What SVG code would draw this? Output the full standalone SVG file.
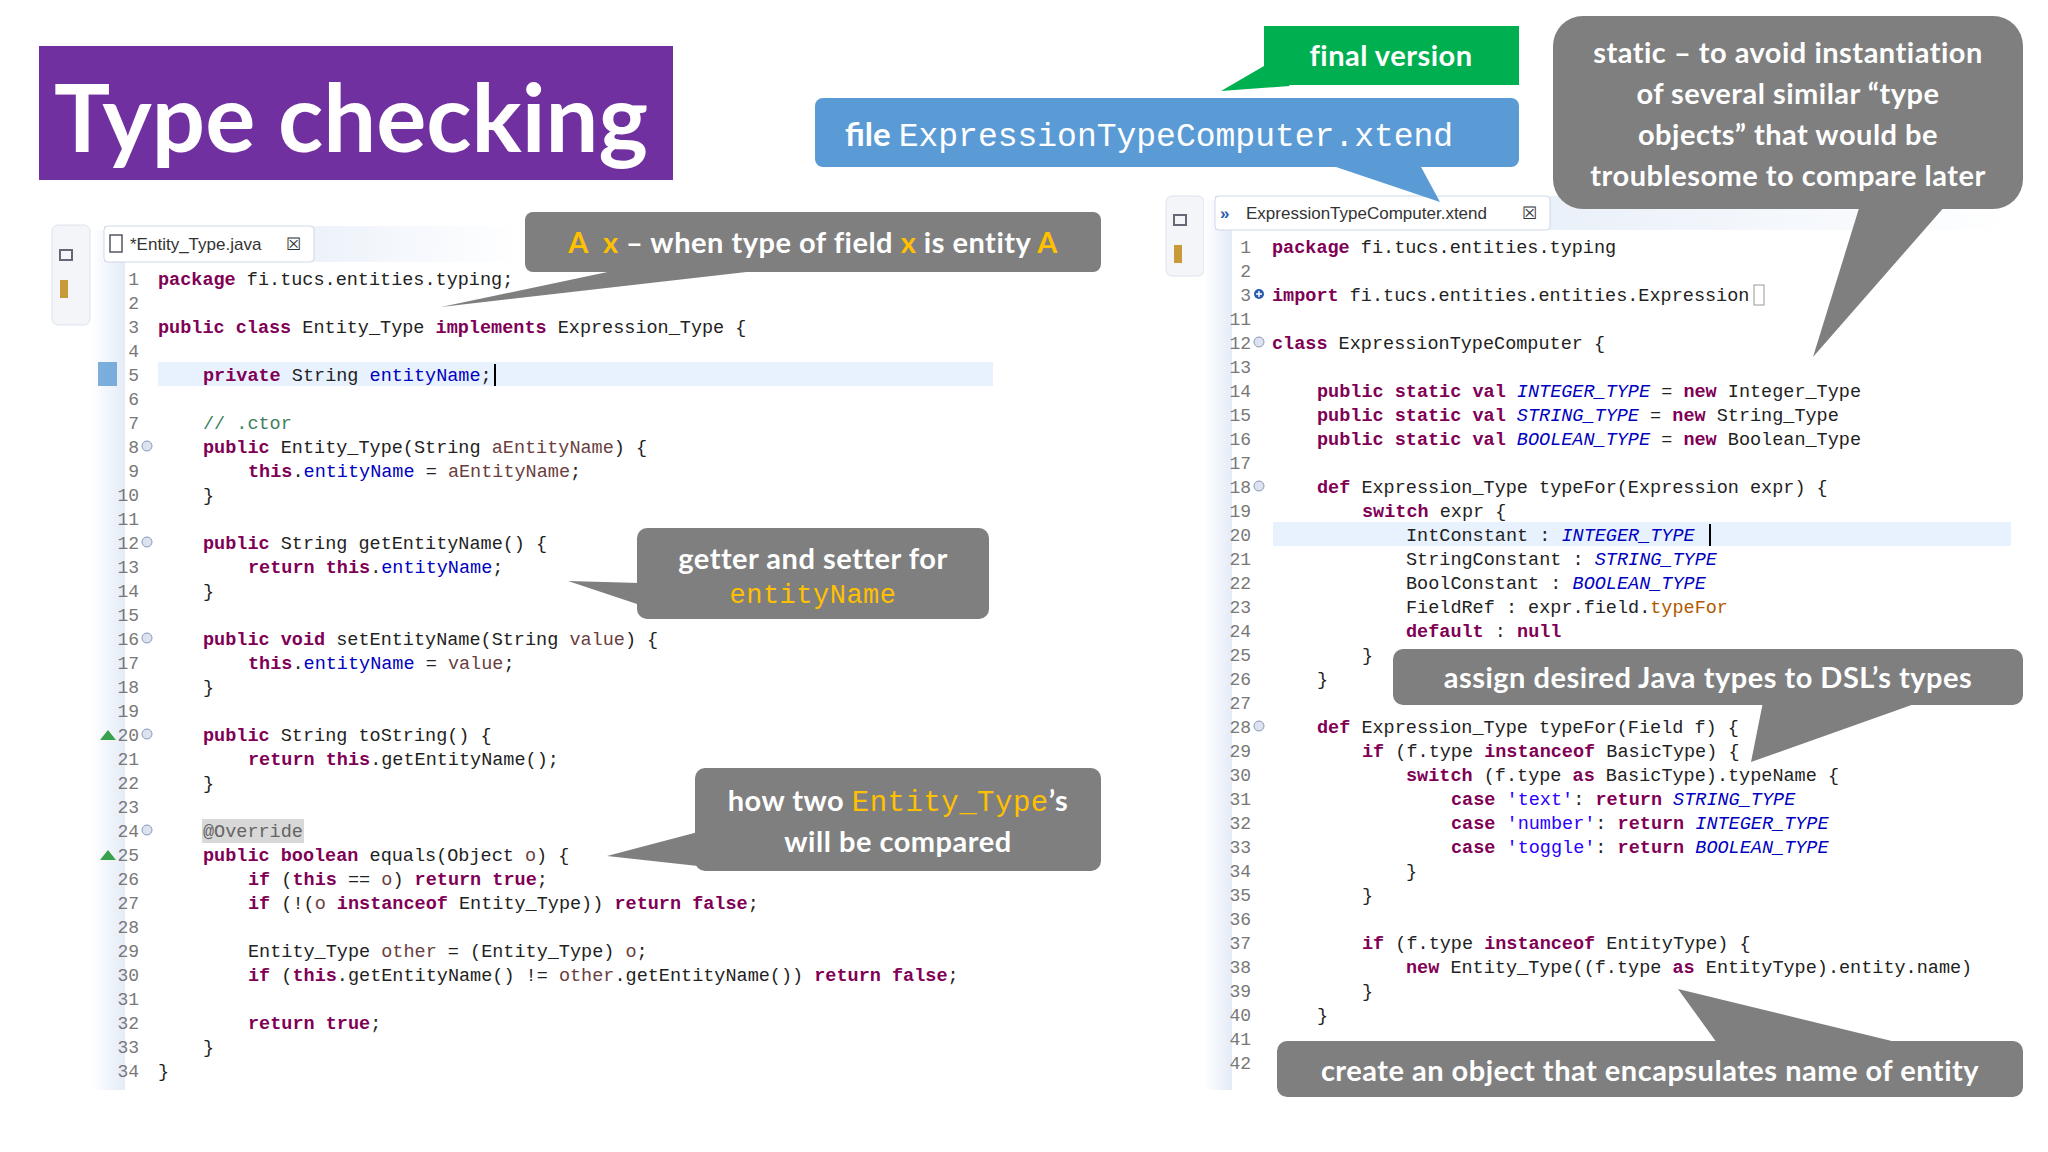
<svg xmlns="http://www.w3.org/2000/svg" width="2048" height="1152" viewBox="0 0 2048 1152">
<defs>
<style>
text{white-space:pre}
.code{font-family:"Liberation Mono","DejaVu Sans Mono",monospace;font-size:18.5px;fill:#222}
.ln{font-family:"Liberation Mono","DejaVu Sans Mono",monospace;font-size:18px;fill:#787878;text-anchor:end}
.k{fill:#7f0055;font-weight:bold}
.f{fill:#0000c0}
.c{fill:#3f7f5f}
.p{fill:#6a3e3e}
.s{fill:#0000c0;font-style:italic}
.st{fill:#2a00ff}
.m{fill:#b05a00}
.an{fill:#646464}
.call{fill:#7f7f7f}
.ct{font-family:Lato,"Open Sans","Liberation Sans",sans-serif;font-weight:bold;fill:#fff;text-anchor:middle;letter-spacing:0.5px}
.o{fill:#ffc000}
.om{fill:#ffc000;font-family:"Liberation Mono","DejaVu Sans Mono",monospace;font-weight:normal}
.fold{fill:#dde3ee;stroke:#8a9ab8;stroke-width:1}
.tabt{font-family:"Liberation Sans",Arial,sans-serif;font-size:17px;fill:#333}
</style>
<linearGradient id="strip" x1="0" x2="1" y1="0" y2="0"><stop offset="0" stop-color="#fff"/><stop offset="1" stop-color="#e4ebf7"/></linearGradient>
<linearGradient id="tabbar" x1="0" x2="1"><stop offset="0" stop-color="#dbe6f5"/><stop offset="1" stop-color="#fff"/></linearGradient>
</defs>
<rect width="2048" height="1152" fill="#fff"/>

<g id="title">
<rect x="39" y="46" width="634" height="134" fill="#7030a0"/>
<text x="54" y="152" font-family="Lato,'Open Sans','Liberation Sans',sans-serif" font-weight="bold" font-size="94" fill="#fff" textLength="594" lengthAdjust="spacingAndGlyphs">Type checking</text>
</g>

<g id="left-editor">
<rect x="52" y="225" width="38" height="100" rx="6" fill="#f3f5f9" stroke="#dde3ec"/>
<rect x="60" y="250" width="12" height="10" fill="none" stroke="#667" stroke-width="2"/>
<rect x="60" y="280" width="8" height="18" fill="#c89a3a"/>
<rect x="91" y="230" width="34" height="860" fill="url(#strip)"/>
<rect x="104" y="226" width="420" height="36" fill="url(#tabbar)"/>
<rect x="104" y="226" width="210" height="36" rx="4" fill="#fff" stroke="#cfd8e6"/>
<rect x="110" y="235" width="12" height="17" fill="none" stroke="#556" stroke-width="1.5"/>
<text class="tabt" x="130" y="250">*Entity_Type.java</text>
<text class="tabt" x="286" y="250" fill="#888">☒</text>
<rect x="158" y="362" width="835" height="24" fill="#e8f2fe"/>
<rect x="98" y="362" width="19" height="24" fill="#5b9bd5" opacity="0.8"/>
<g>
<text class="ln" x="139" y="285">1</text><text class="ln" x="139" y="309">2</text><text class="ln" x="139" y="333">3</text><text class="ln" x="139" y="357">4</text><text class="ln" x="139" y="381">5</text><text class="ln" x="139" y="405">6</text><text class="ln" x="139" y="429">7</text><text class="ln" x="139" y="453">8</text><text class="ln" x="139" y="477">9</text><text class="ln" x="139" y="501">10</text><text class="ln" x="139" y="525">11</text><text class="ln" x="139" y="549">12</text><text class="ln" x="139" y="573">13</text><text class="ln" x="139" y="597">14</text><text class="ln" x="139" y="621">15</text><text class="ln" x="139" y="645">16</text><text class="ln" x="139" y="669">17</text><text class="ln" x="139" y="693">18</text><text class="ln" x="139" y="717">19</text><text class="ln" x="139" y="741">20</text><text class="ln" x="139" y="765">21</text><text class="ln" x="139" y="789">22</text><text class="ln" x="139" y="813">23</text><text class="ln" x="139" y="837">24</text><text class="ln" x="139" y="861">25</text><text class="ln" x="139" y="885">26</text><text class="ln" x="139" y="909">27</text><text class="ln" x="139" y="933">28</text><text class="ln" x="139" y="957">29</text><text class="ln" x="139" y="981">30</text><text class="ln" x="139" y="1005">31</text><text class="ln" x="139" y="1029">32</text><text class="ln" x="139" y="1053">33</text><text class="ln" x="139" y="1077">34</text>
<circle class="fold" cx="147" cy="446" r="5"/><circle class="fold" cx="147" cy="542" r="5"/><circle class="fold" cx="147" cy="638" r="5"/><circle class="fold" cx="147" cy="734" r="5"/><circle class="fold" cx="147" cy="830" r="5"/>
<polygon points="100,740 108,730 116,740" fill="#3aa04a"/><polygon points="100,860 108,850 116,860" fill="#3aa04a"/>
</g>
<g class="code">
<text x="158" y="285"><tspan class="k">package</tspan> fi.tucs.entities.typing;</text>
<text x="158" y="333"><tspan class="k">public class</tspan> Entity_Type <tspan class="k">implements</tspan> Expression_Type {</text>
<text x="203" y="381"><tspan class="k">private</tspan> String <tspan class="f">entityName</tspan>;</text>
<rect x="494" y="364" width="2" height="22" fill="#000"/>
<text x="203" y="429" class="c">// .ctor</text>
<text x="203" y="453"><tspan class="k">public</tspan> Entity_Type(String <tspan class="p">aEntityName</tspan>) {</text>
<text x="248" y="477"><tspan class="k">this</tspan>.<tspan class="f">entityName</tspan> = <tspan class="p">aEntityName</tspan>;</text>
<text x="203" y="501">}</text>
<text x="203" y="549"><tspan class="k">public</tspan> String getEntityName() {</text>
<text x="248" y="573"><tspan class="k">return this</tspan>.<tspan class="f">entityName</tspan>;</text>
<text x="203" y="597">}</text>
<text x="203" y="645"><tspan class="k">public void</tspan> setEntityName(String <tspan class="p">value</tspan>) {</text>
<text x="248" y="669"><tspan class="k">this</tspan>.<tspan class="f">entityName</tspan> = <tspan class="p">value</tspan>;</text>
<text x="203" y="693">}</text>
<text x="203" y="741"><tspan class="k">public</tspan> String toString() {</text>
<text x="248" y="765"><tspan class="k">return this</tspan>.getEntityName();</text>
<text x="203" y="789">}</text>
<rect x="202" y="819" width="102" height="24" fill="#d8d8d8"/>
<text x="203" y="837" class="an">@Override</text>
<text x="203" y="861"><tspan class="k">public boolean</tspan> equals(Object <tspan class="p">o</tspan>) {</text>
<text x="248" y="885"><tspan class="k">if</tspan> (<tspan class="k">this</tspan> == <tspan class="p">o</tspan>) <tspan class="k">return true</tspan>;</text>
<text x="248" y="909"><tspan class="k">if</tspan> (!(<tspan class="p">o</tspan> <tspan class="k">instanceof</tspan> Entity_Type)) <tspan class="k">return false</tspan>;</text>
<text x="248" y="957">Entity_Type <tspan class="p">other</tspan> = (Entity_Type) <tspan class="p">o</tspan>;</text>
<text x="248" y="981"><tspan class="k">if</tspan> (<tspan class="k">this</tspan>.getEntityName() != <tspan class="p">other</tspan>.getEntityName()) <tspan class="k">return false</tspan>;</text>
<text x="248" y="1029"><tspan class="k">return true</tspan>;</text>
<text x="203" y="1053">}</text>
<text x="158" y="1077">}</text>
</g>
</g>

<g id="right-editor">
<rect x="1166" y="196" width="38" height="80" rx="6" fill="#f3f5f9" stroke="#dde3ec"/>
<rect x="1174" y="215" width="12" height="10" fill="none" stroke="#667" stroke-width="2"/>
<rect x="1174" y="245" width="8" height="18" fill="#c89a3a"/>
<rect x="1204" y="200" width="28" height="890" fill="url(#strip)"/>
<rect x="1215" y="196" width="800" height="34" fill="url(#tabbar)"/>
<rect x="1215" y="196" width="335" height="34" rx="4" fill="#fff" stroke="#cfd8e6"/>
<text x="1220" y="219" font-family="Liberation Sans,sans-serif" font-size="17" fill="#2a5bb0" font-weight="bold">»</text>
<text class="tabt" x="1246" y="219">ExpressionTypeComputer.xtend</text>
<text class="tabt" x="1522" y="219" fill="#888">☒</text>
<rect x="1273" y="522" width="738" height="24" fill="#e8f2fe"/>
<g>
<text class="ln" x="1251" y="253">1</text><text class="ln" x="1251" y="277">2</text><text class="ln" x="1251" y="301">3</text><text class="ln" x="1251" y="325">11</text><text class="ln" x="1251" y="349">12</text><text class="ln" x="1251" y="373">13</text><text class="ln" x="1251" y="397">14</text><text class="ln" x="1251" y="421">15</text><text class="ln" x="1251" y="445">16</text><text class="ln" x="1251" y="469">17</text><text class="ln" x="1251" y="493">18</text><text class="ln" x="1251" y="517">19</text><text class="ln" x="1251" y="541">20</text><text class="ln" x="1251" y="565">21</text><text class="ln" x="1251" y="589">22</text><text class="ln" x="1251" y="613">23</text><text class="ln" x="1251" y="637">24</text><text class="ln" x="1251" y="661">25</text><text class="ln" x="1251" y="685">26</text><text class="ln" x="1251" y="709">27</text><text class="ln" x="1251" y="733">28</text><text class="ln" x="1251" y="757">29</text><text class="ln" x="1251" y="781">30</text><text class="ln" x="1251" y="805">31</text><text class="ln" x="1251" y="829">32</text><text class="ln" x="1251" y="853">33</text><text class="ln" x="1251" y="877">34</text><text class="ln" x="1251" y="901">35</text><text class="ln" x="1251" y="925">36</text><text class="ln" x="1251" y="949">37</text><text class="ln" x="1251" y="973">38</text><text class="ln" x="1251" y="997">39</text><text class="ln" x="1251" y="1021">40</text><text class="ln" x="1251" y="1045">41</text><text class="ln" x="1251" y="1069">42</text>
<circle cx="1259" cy="294" r="5" fill="#2a5bb0"/><path d="M1256 294h6M1259 291v6" stroke="#fff" stroke-width="1.5"/>
<circle class="fold" cx="1259" cy="342" r="5"/><circle class="fold" cx="1259" cy="486" r="5"/><circle class="fold" cx="1259" cy="726" r="5"/>
</g>
<g class="code">
<text x="1272" y="253"><tspan class="k">package</tspan> fi.tucs.entities.typing</text>
<text x="1272" y="301"><tspan class="k">import</tspan> fi.tucs.entities.entities.Expression</text>
<rect x="1754" y="285" width="10" height="20" fill="#fff" stroke="#999"/>
<text x="1272" y="349"><tspan class="k">class</tspan> ExpressionTypeComputer {</text>
<text x="1317" y="397"><tspan class="k">public static val</tspan> <tspan class="s">INTEGER_TYPE</tspan> = <tspan class="k">new</tspan> Integer_Type</text>
<text x="1317" y="421"><tspan class="k">public static val</tspan> <tspan class="s">STRING_TYPE</tspan> = <tspan class="k">new</tspan> String_Type</text>
<text x="1317" y="445"><tspan class="k">public static val</tspan> <tspan class="s">BOOLEAN_TYPE</tspan> = <tspan class="k">new</tspan> Boolean_Type</text>
<text x="1317" y="493"><tspan class="k">def</tspan> Expression_Type typeFor(Expression expr) {</text>
<text x="1362" y="517"><tspan class="k">switch</tspan> expr {</text>
<text x="1406" y="541">IntConstant : <tspan class="s">INTEGER_TYPE</tspan></text>
<rect x="1709" y="524" width="2" height="22" fill="#000"/>
<text x="1406" y="565">StringConstant : <tspan class="s">STRING_TYPE</tspan></text>
<text x="1406" y="589">BoolConstant : <tspan class="s">BOOLEAN_TYPE</tspan></text>
<text x="1406" y="613">FieldRef : expr.field.<tspan class="m">typeFor</tspan></text>
<text x="1406" y="637"><tspan class="k">default</tspan> : <tspan class="k">null</tspan></text>
<text x="1362" y="661">}</text>
<text x="1317" y="685">}</text>
<text x="1317" y="733"><tspan class="k">def</tspan> Expression_Type typeFor(Field f) {</text>
<text x="1362" y="757"><tspan class="k">if</tspan> (f.type <tspan class="k">instanceof</tspan> BasicType) {</text>
<text x="1406" y="781"><tspan class="k">switch</tspan> (f.type <tspan class="k">as</tspan> BasicType).typeName {</text>
<text x="1451" y="805"><tspan class="k">case</tspan> <tspan class="st">'text'</tspan>: <tspan class="k">return</tspan> <tspan class="s">STRING_TYPE</tspan></text>
<text x="1451" y="829"><tspan class="k">case</tspan> <tspan class="st">'number'</tspan>: <tspan class="k">return</tspan> <tspan class="s">INTEGER_TYPE</tspan></text>
<text x="1451" y="853"><tspan class="k">case</tspan> <tspan class="st">'toggle'</tspan>: <tspan class="k">return</tspan> <tspan class="s">BOOLEAN_TYPE</tspan></text>
<text x="1406" y="877">}</text>
<text x="1362" y="901">}</text>
<text x="1362" y="949"><tspan class="k">if</tspan> (f.type <tspan class="k">instanceof</tspan> EntityType) {</text>
<text x="1406" y="973"><tspan class="k">new</tspan> Entity_Type((f.type <tspan class="k">as</tspan> EntityType).entity.name)</text>
<text x="1362" y="997">}</text>
<text x="1317" y="1021">}</text>
</g>
</g>

<g id="connectors">
<polygon points="1264,66 1290,86 1221,91" fill="#00b050"/>
<polygon points="1330,165 1420,165 1440,202" fill="#5b9bd5"/>
<polygon class="call" points="1860,205 1946,205 1813,357"/>
<polygon class="call" points="617,270 765,270 441,307"/>
<polygon class="call" points="640,583 640,605 568,581"/>
<polygon class="call" points="698,832 698,866 607,856"/>
<polygon class="call" points="1763,702 1920,702 1751,762"/>
<polygon class="call" points="1717,1043 1900,1043 1678,989"/>
</g>

<g id="final-version">
<rect x="1264" y="26" width="255" height="59" fill="#00b050"/>
<text class="ct" x="1391" y="66" font-size="29">final version</text>
</g>
<g id="file-label">
<rect x="815" y="98" width="704" height="69" rx="8" fill="#5b9bd5"/>
<text x="845" y="146" font-size="33" fill="#fff" font-family="Lato,'Open Sans','Liberation Sans',sans-serif" font-weight="bold">file <tspan font-family="'Liberation Mono','DejaVu Sans Mono',monospace" font-weight="normal">ExpressionTypeComputer.xtend</tspan></text>
</g>
<g id="static-note">
<rect class="call" x="1553" y="16" width="470" height="193" rx="30"/>
<text class="ct" x="1788" y="63" font-size="29">static – to avoid instantiation</text>
<text class="ct" x="1788" y="104" font-size="29">of several similar “type</text>
<text class="ct" x="1788" y="145" font-size="29">objects” that would be</text>
<text class="ct" x="1788" y="186" font-size="29">troublesome to compare later</text>
</g>
<g id="ax-note">
<rect class="call" x="525" y="212" width="576" height="60" rx="8"/>
<text class="ct" x="813" y="253" font-size="29"><tspan class="o">A  x</tspan> – when type of field <tspan class="o">x</tspan> is entity <tspan class="o">A</tspan></text>
</g>
<g id="getter-note">
<rect class="call" x="637" y="528" width="352" height="91" rx="10"/>
<text class="ct" x="813" y="569" font-size="29">getter and setter for</text>
<text class="ct" x="813" y="603" font-size="27"><tspan class="om">entityName</tspan></text>
</g>
<g id="equals-note">
<rect class="call" x="695" y="768" width="406" height="103" rx="10"/>
<text class="ct" x="898" y="811" font-size="29">how two <tspan class="om">Entity_Type</tspan>’s</text>
<text class="ct" x="898" y="852" font-size="29">will be compared</text>
</g>
<g id="assign-note">
<rect class="call" x="1393" y="649" width="630" height="56" rx="10"/>
<text class="ct" x="1708" y="688" font-size="29">assign desired Java types to DSL’s types</text>
</g>
<g id="create-note">
<rect class="call" x="1277" y="1041" width="746" height="56" rx="10"/>
<text class="ct" x="1650" y="1081" font-size="29">create an object that encapsulates name of entity</text>
</g>
</svg>
